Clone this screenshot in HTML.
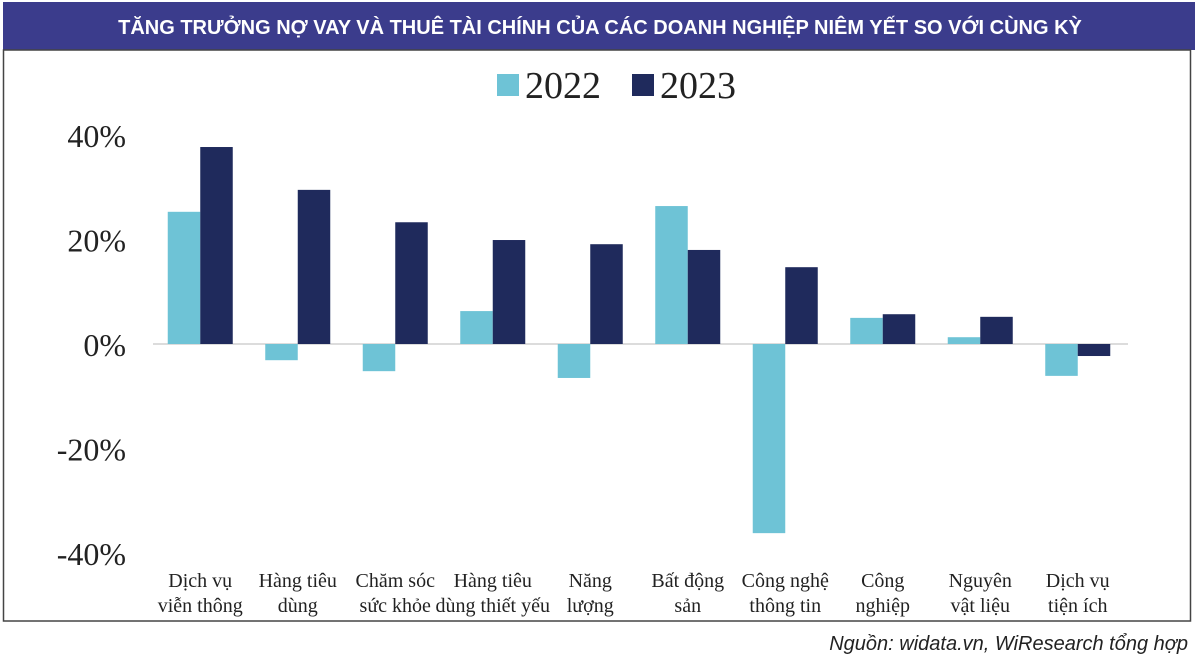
<!DOCTYPE html>
<html><head><meta charset="utf-8">
<style>
body{margin:0;background:#fff;width:1200px;height:661px;overflow:hidden;font-family:"Liberation Serif",serif;}
svg{display:block}
</style></head>
<body>
<svg id="chart" width="1200" height="661">
  <rect x="3" y="2" width="1192" height="48" fill="#3b3c8c"/>
  <text x="600" y="34" text-anchor="middle" fill="#fff" font-family="Liberation Sans, sans-serif" font-weight="bold" font-size="20">TĂNG TRƯỞNG NỢ VAY VÀ THUÊ TÀI CHÍNH CỦA CÁC DOANH NGHIỆP NIÊM YẾT SO VỚI CÙNG KỲ</text>
  <rect x="3.5" y="50" width="1187" height="571" fill="none" stroke="#444" stroke-width="1.5"/>
  <g>
    <rect x="497" y="74" width="22" height="22" fill="#6ec3d6"/>
    <text x="525" y="98" font-size="38" fill="#222">2022</text>
    <rect x="632" y="74" width="22" height="22" fill="#1f2a5c"/>
    <text x="660" y="98" font-size="38" fill="#222">2023</text>
  </g>
  <g id="plot"></g>
  <text x="1188" y="650" text-anchor="end" font-family="Liberation Sans, sans-serif" font-style="italic" font-size="20" fill="#222">Nguồn: widata.vn, WiResearch tổng hợp</text>
</svg>
<script>
const categories = [["Dịch vụ","viễn thông"],["Hàng tiêu","dùng"],["Chăm sóc","sức khỏe"],["Hàng tiêu","dùng thiết yếu"],["Năng","lượng"],["Bất động","sản"],["Công nghệ","thông tin"],["Công","nghiệp"],["Nguyên","vật liệu"],["Dịch vụ","tiện ích"]];
const values2022 = [25.3, -3.1, -5.2, 6.3, -6.5, 26.4, -36.2, 5.0, 1.3, -6.1];
const values2023 = [37.7, 29.5, 23.3, 19.9, 19.1, 18.0, 14.7, 5.7, 5.2, -2.3];
const yTicks = [40, 20, 0, -20, -40];
const yTickLabels = ["40%", "20%", "0%", "-20%", "-40%"];

const NS = "http://www.w3.org/2000/svg";
const plot = document.getElementById("plot");
const x0 = 153, x1 = 1128, bandW = (x1 - x0) / categories.length, barW = 32.5;
const y = v => 344 - v * 5.225;
const bandCenter = i => x0 + bandW * (i + 0.5) - 1.5;
function mk(tag, attrs) { const e = document.createElementNS(NS, tag); for (const k in attrs) e.setAttribute(k, attrs[k]); plot.appendChild(e); return e; }

yTicks.forEach((t, i) => {
  const tx = mk("text", {x: 126, y: y(t) + 12, "text-anchor": "end", "font-size": "32", fill: "#222"});
  tx.textContent = yTickLabels[i];
  
  
});
const zl = mk("line", {x1: x0, x2: x1, y1: y(0), y2: y(0), stroke: "#d0d0d0", "stroke-width": 1.5});



categories.forEach((c, i) => {
  const cx = bandCenter(i);
  [[values2022[i], "#6ec3d6", cx - barW, "bar-2022"], [values2023[i], "#1f2a5c", cx, "bar-2023"]].forEach(([v, col, bx, nm]) => {
    const r = mk("rect", {x: bx, y: Math.min(y(v), y(0)), width: barW, height: Math.abs(y(v) - y(0)), fill: col});
    
    
  });
  c.forEach((line, j) => {
    const t = mk("text", {x: cx, y: 587 + j * 25, "text-anchor": "middle", "font-size": "20", fill: "#222"});
    t.textContent = line;
    
    
  });
});
</script>
</body></html>
